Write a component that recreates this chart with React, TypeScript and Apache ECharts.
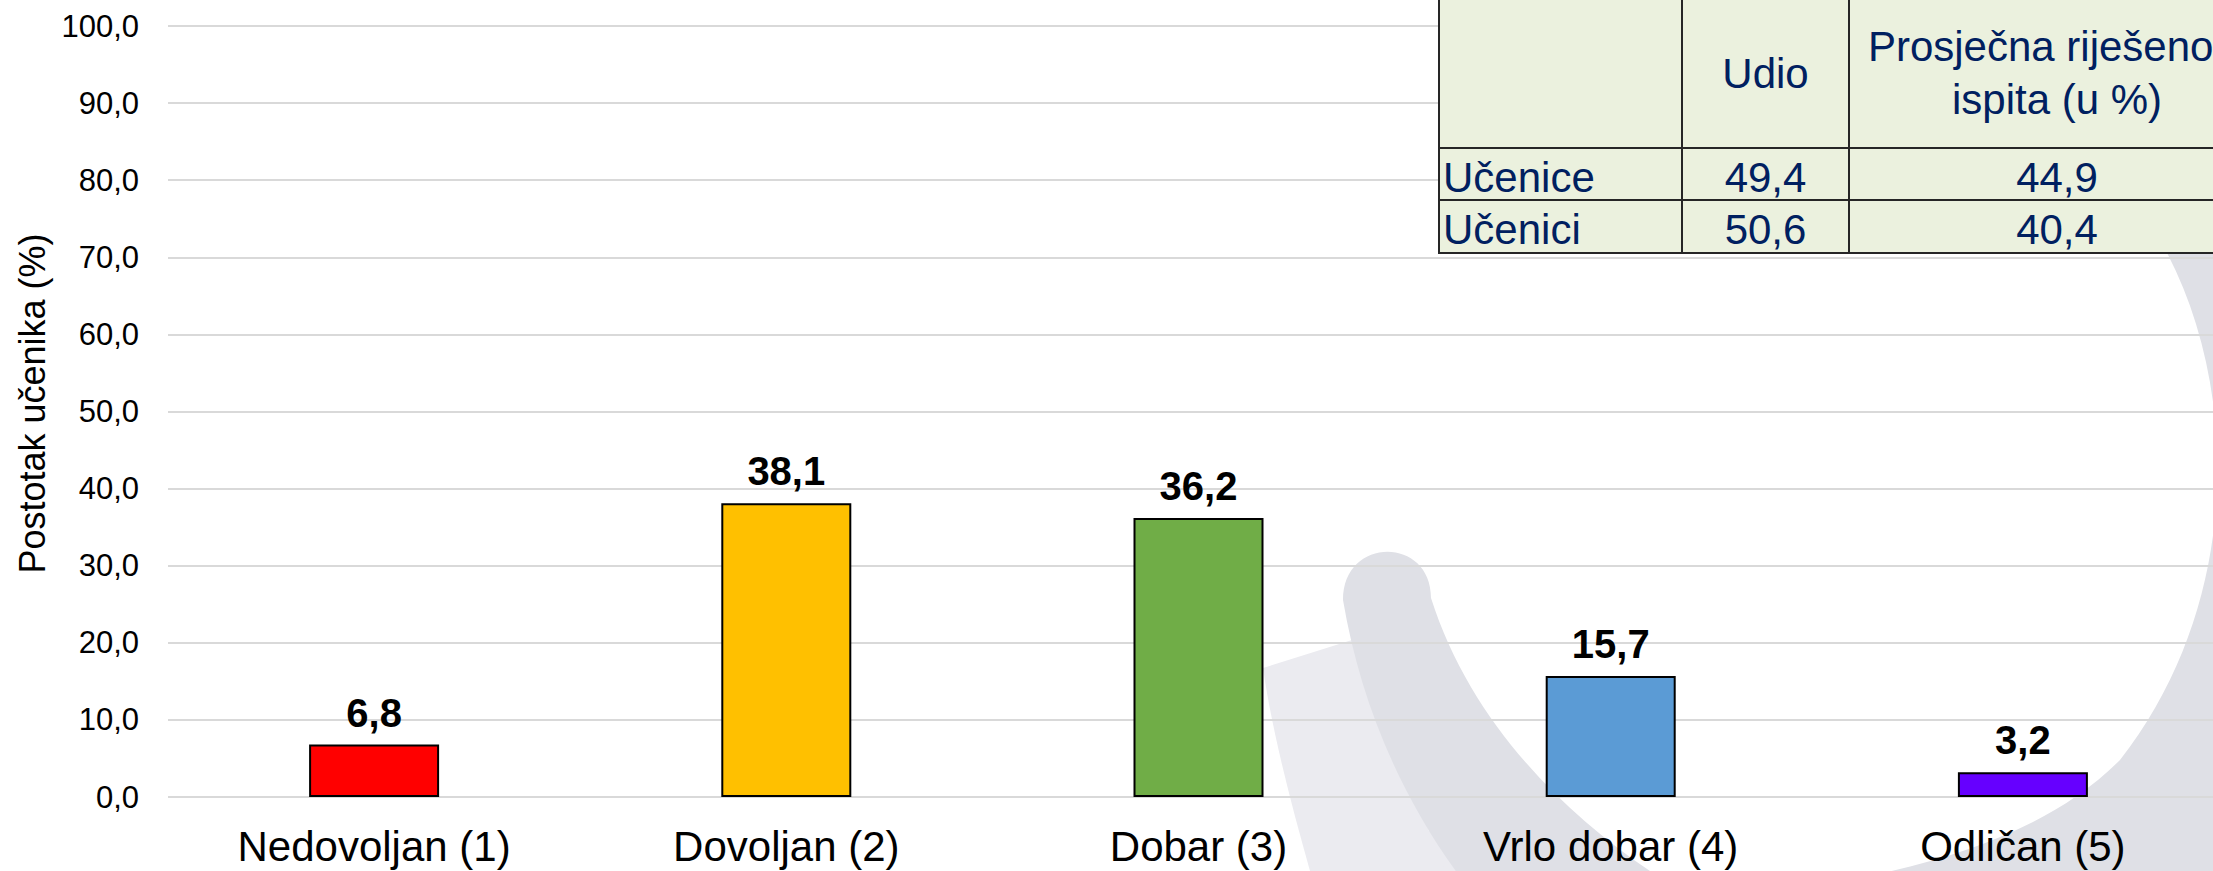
import React, { useEffect, useRef } from "react";
import * as echarts from "echarts";

// ---- data ----
const categories = ["Nedovoljan (1)", "Dovoljan (2)", "Dobar (3)", "Vrlo dobar (4)", "Odličan (5)"];
const values = [6.8, 38.1, 36.2, 15.7, 3.2];
const barColors = ["#FF0000", "#FFC000", "#70AD47", "#5B9BD5", "#6600FF"];
const yTicks = { min: 0, max: 100, interval: 10 };
const axisTitle = "Postotak učenika (%)";

const tableHeaders = ["", "Udio", "Prosječna riješenost\nispita (u %)"];
const tableRowNames = ["Učenice", "Učenici"];
const tableUdio = [49.4, 50.6];
const tableProsjek = [44.9, 40.4];

// ---- decoration (background watermark) ----
const WM_DARK =
  "M1343 600 C1360 700 1400 800 1470 890 L1470 1000 L2300 1000 L2300 100 L2160 240 C2240 380 2245 600 2120 760 C2050 830 1950 860 1850 880 C1760 895 1690 890 1650 871 C1560 810 1470 720 1431 598 C1431 536 1343 536 1343 600 Z";
const WM_LIGHT = "M1263 668 L1352 640 L1445 871 L1310 871 C1290 800 1272 730 1263 668 Z";

echarts.graphic.registerShape("wmDark", echarts.graphic.extendPath(WM_DARK, {}));
echarts.graphic.registerShape("wmLight", echarts.graphic.extendPath(WM_LIGHT, {}));

const FONT = "'Liberation Sans', Arial, sans-serif";
const fmt = (v: number) => v.toFixed(1).replace(".", ",");

function buildTable() {
  const x0 = 1439;
  const colW = [243, 167, 416];
  const rowY = [-2, 148, 200, 253];
  const navy = "#002060";
  const els: any[] = [];
  let cx = x0;
  const colX: number[] = [];
  colW.forEach((w) => {
    colX.push(cx);
    cx += w;
  });
  for (let r = 0; r < 3; r++) {
    for (let c = 0; c < 3; c++) {
      els.push({
        type: "rect",
        z: 100,
        shape: { x: colX[c], y: rowY[r], width: colW[c], height: rowY[r + 1] - rowY[r] },
        style: { fill: "#EBF1DE", stroke: "#262626", lineWidth: 2 },
      });
    }
  }
  tableHeaders.forEach((h, c) => {
    if (!h) return;
    els.push({
      type: "text",
      z: 101,
      x: colX[c] + colW[c] / 2,
      y: (rowY[0] + rowY[1]) / 2,
      style: {
        text: h,
        fill: navy,
        fontSize: 42,
        fontFamily: FONT,
        align: "center",
        verticalAlign: "middle",
        lineHeight: 53,
      },
    });
  });
  tableRowNames.forEach((name, r) => {
    const yMid = (rowY[r + 1] + rowY[r + 2]) / 2 + 3;
    els.push({
      type: "text",
      z: 101,
      x: colX[0] + 4,
      y: yMid,
      style: { text: name, fill: navy, fontSize: 42, fontFamily: FONT, align: "left", verticalAlign: "middle" },
    });
    els.push({
      type: "text",
      z: 101,
      x: colX[1] + colW[1] / 2,
      y: yMid,
      style: { text: fmt(tableUdio[r]), fill: navy, fontSize: 42, fontFamily: FONT, align: "center", verticalAlign: "middle" },
    });
    els.push({
      type: "text",
      z: 101,
      x: colX[2] + colW[2] / 2,
      y: yMid,
      style: { text: fmt(tableProsjek[r]), fill: navy, fontSize: 42, fontFamily: FONT, align: "center", verticalAlign: "middle" },
    });
  });
  return els;
}

export default function App() {
  const ref = useRef<HTMLDivElement>(null);
  useEffect(() => {
    if (!ref.current) return;
    const chart = echarts.init(ref.current, undefined, { renderer: "svg" });
    const option: any = {
      animation: false,
      backgroundColor: "#ffffff",
      textStyle: { fontFamily: FONT },
      grid: { left: 168, top: 26, width: 2061, height: 771 },
      xAxis: {
        type: "category",
        data: categories,
        axisLine: { show: false },
        axisTick: { show: false },
        axisLabel: { fontSize: 42, color: "#000", margin: 28, fontFamily: FONT },
      },
      yAxis: {
        type: "value",
        min: yTicks.min,
        max: yTicks.max,
        interval: yTicks.interval,
        axisLine: { show: false },
        axisTick: { show: false },
        axisLabel: { formatter: (v: number) => fmt(v), fontSize: 31, margin: 29, color: "#000", fontFamily: FONT },
        splitLine: { lineStyle: { color: "#d9d9d9", width: 2 } },
        name: axisTitle,
        nameLocation: "middle",
        nameGap: 116,
        nameTextStyle: { fontSize: 36, color: "#000", fontFamily: FONT, padding: [0, 0, 0, 16] },
      },
      series: [
        {
          type: "bar",
          data: values.map((v, i) => ({ value: v, itemStyle: { color: barColors[i] } })),
          barWidth: 130,
          itemStyle: { borderColor: "#000", borderWidth: 2 },
          label: {
            show: true,
            position: "top",
            distance: 12,
            fontSize: 40,
            fontWeight: "bold",
            color: "#000",
            fontFamily: FONT,
            formatter: (p: any) => fmt(p.value),
          },
        },
      ],
      graphic: [
        { type: "circle", z: -10, shape: { cx: 1480, cy: 905, r: 90 }, style: { fill: "#ebebf0" } },
        { type: "wmLight", z: -10, x: 0, y: 0, style: { fill: "#ebebf0" } },
        { type: "wmDark", z: -9, x: 0, y: 0, style: { fill: "#dfe0e6" } },
        ...buildTable(),
      ],
    };
    chart.setOption(option);
    return () => chart.dispose();
  }, []);
  return (
    <div style={{ position: "absolute", left: 0, top: 0, width: 2213, height: 871, overflow: "hidden" }}>
      <div ref={ref} style={{ width: 2240, height: 871 }} />
    </div>
  );
}
